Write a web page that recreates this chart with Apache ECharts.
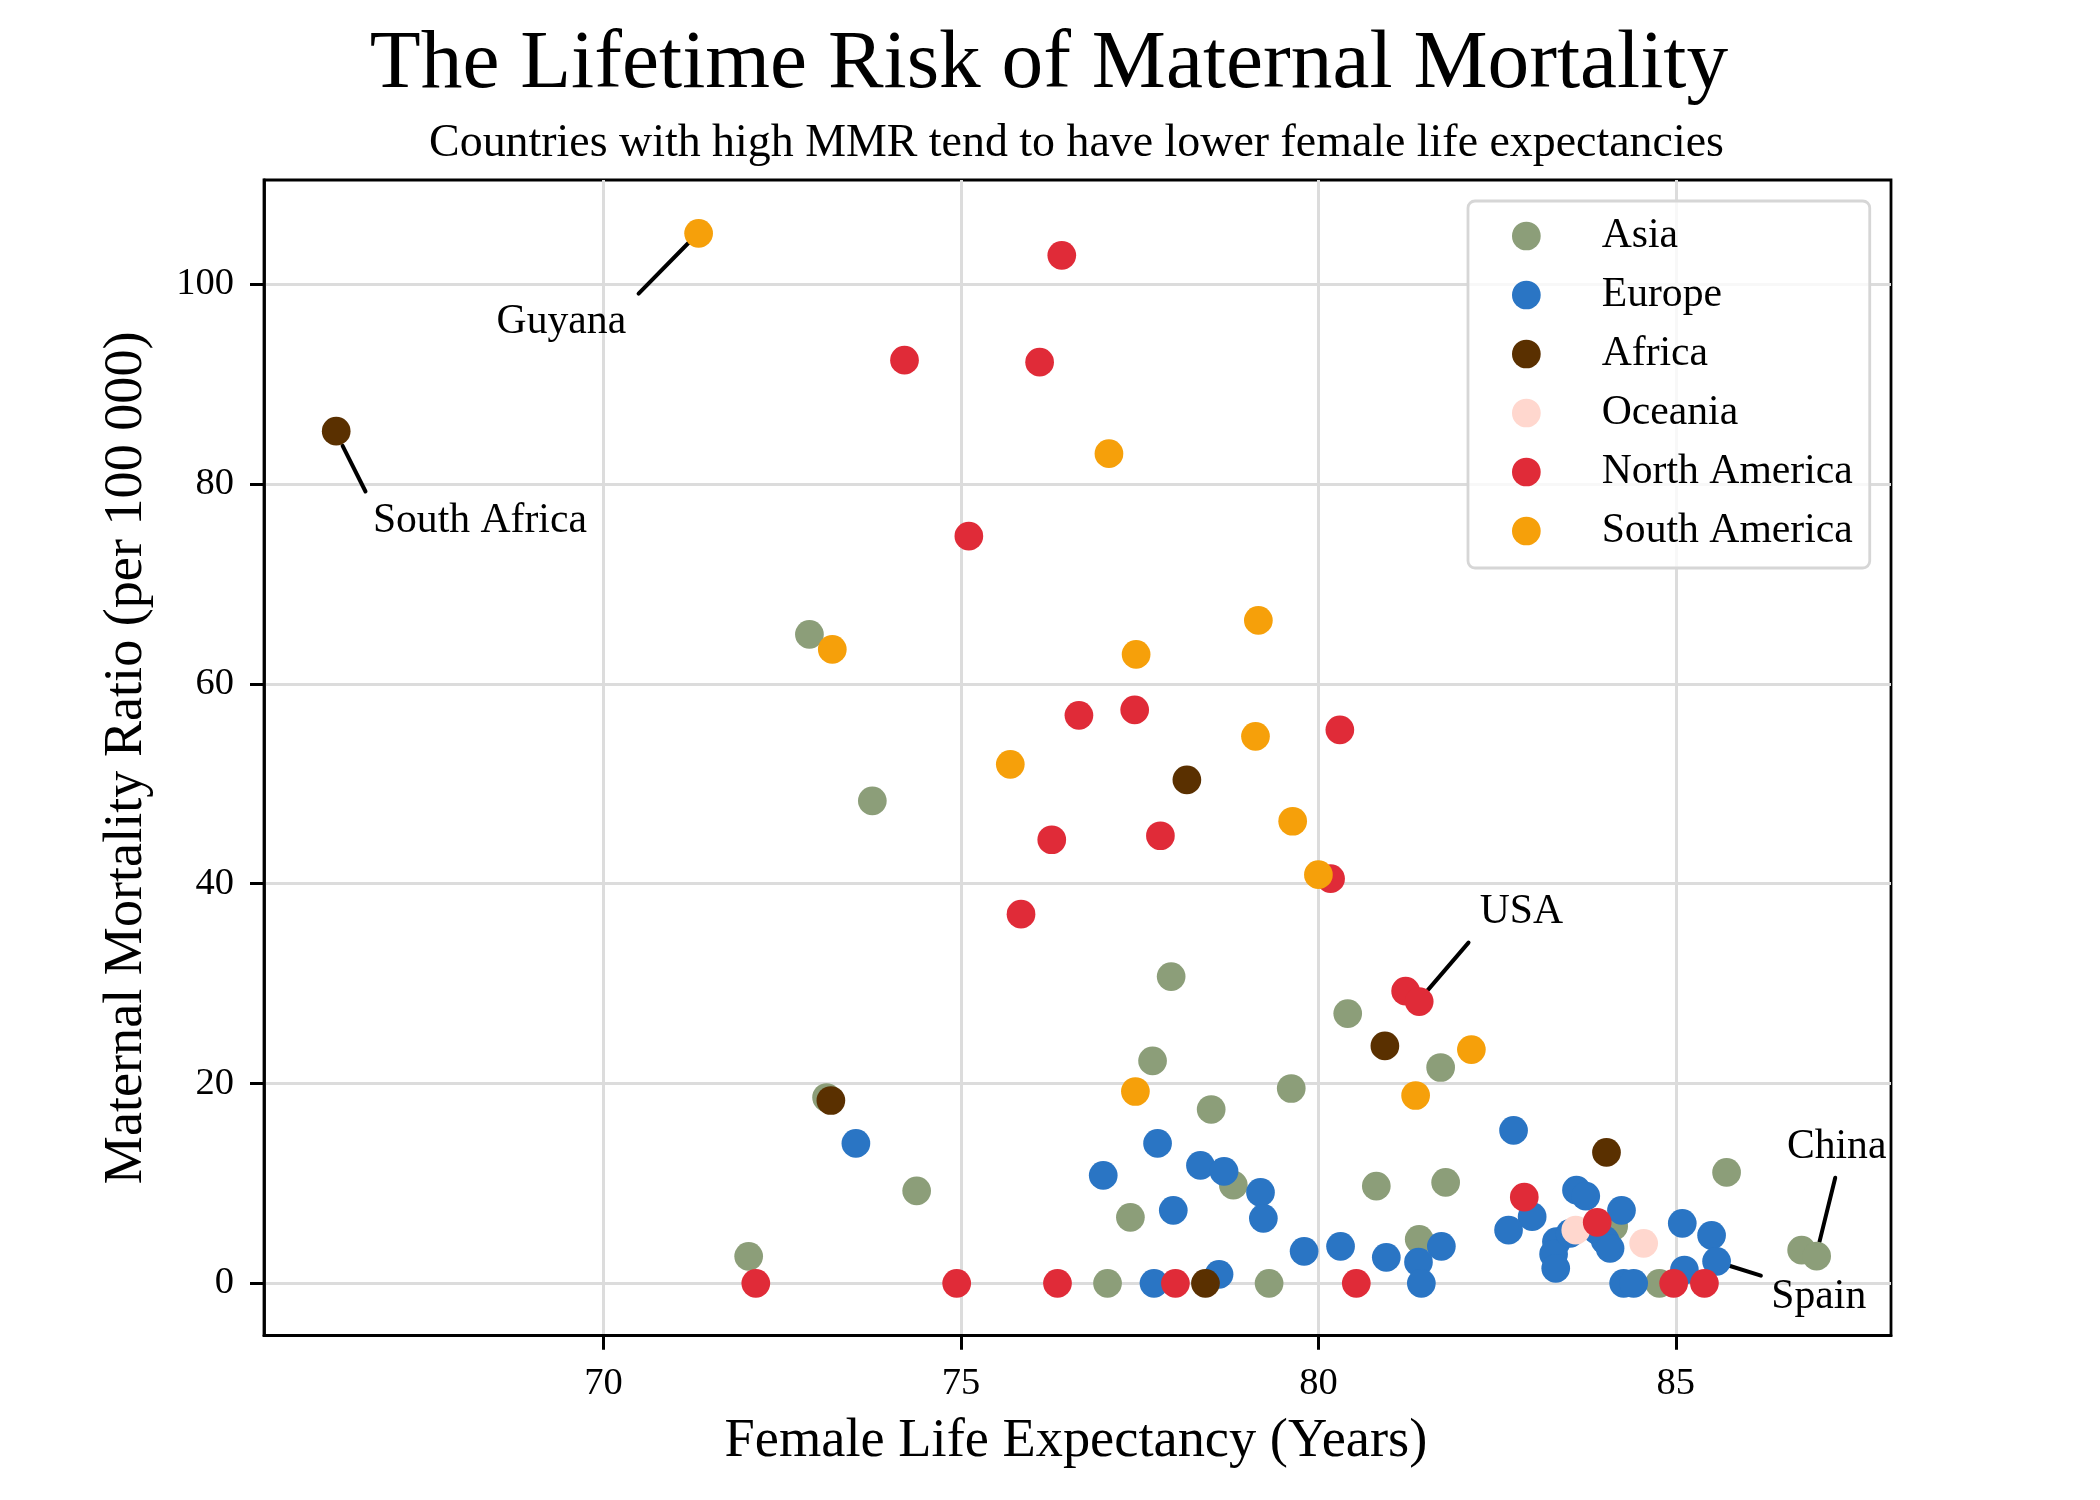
<!DOCTYPE html>
<html><head><meta charset="utf-8">
<style>html,body{margin:0;padding:0;background:#fff}#c{width:2100px;height:1500px}</style>
<script src="https://cdn.jsdelivr.net/npm/echarts@6/dist/echarts.min.js"></script>
</head><body><div id="c"></div>
<script>
const FONT = '"Liberation Serif","Times New Roman",serif';
const xTicks = [70,75,80,85];
const yTicks = [0,20,40,60,80,100];
const asia = [[72.88,64.95],[73.76,48.3],[77.94,30.7],[80.41,27],[74.38,9.26],[73.12,18.6],[72.03,2.7],[81.71,21.6],[81.78,10.1],[81.41,4.4],[85.71,11.1],[86.76,3.33],[86.97,2.73],[84.77,0],[84.13,5.7],[77.68,22.27],[78.5,17.4],[79.62,19.5],[77.37,6.6],[78.81,9.83],[80.81,9.73],[77.05,0],[79.31,0]];
const europe = [[73.53,14],[82.73,15.3],[81.72,3.7],[81.4,2.13],[81.44,0],[82.99,6.67],[82.66,5.33],[83.61,9.33],[83.74,8.73],[84.24,7.3],[83.33,4.17],[83.29,2.93],[83.32,1.5],[83.52,5],[83.9,5.3],[84.01,4.3],[84.08,3.5],[84.27,0],[84.41,0],[85.09,6],[85.5,4.8],[85.57,2.2],[85.12,1.33],[77.75,14],[76.99,10.8],[78.35,11.8],[78.68,11.2],[79.19,9.1],[79.23,6.5],[77.97,7.3],[79.8,3.2],[80.31,3.7],[80.95,2.6],[77.7,0],[78.61,0.9]];
const africa = [[66.26,85.3],[78.16,50.4],[73.18,18.3],[80.93,23.76],[84.03,13.1],[78.42,0]];
const oceania = [[83.6,5.33],[84.55,4]];
const northAmerica = [[76.41,102.9],[74.21,92.4],[76.1,92.2],[75.11,74.8],[76.65,56.85],[77.43,57.4],[80.3,55.4],[76.27,44.4],[77.79,44.8],[80.17,40.5],[75.84,36.95],[81.22,29.25],[81.41,28.2],[72.13,0],[74.94,0],[76.35,0],[78,0],[80.53,0],[82.88,8.63],[83.9,6.1],[84.97,0],[85.4,0]];
const southAmerica = [[71.33,105.1],[77.07,83.05],[79.16,66.35],[77.45,62.95],[73.2,63.45],[79.12,54.75],[75.69,51.95],[79.64,46.25],[80,40.9],[82.14,23.4],[81.36,18.8],[77.44,19.2]];
const annotationLabels = [["Guyana",69.41,96.2],["South Africa",68.27,76.3],["USA",82.84,37.2],["China",87.25,13.6],["Spain",87.0,-1.4]];
const annotationLines = [[[70.49,99.06],[71.19,104.16]],[[66.35,83.83],[66.67,79.26]],[[81.5,29.1],[82.1,34.1]],[[87.01,4.17],[87.23,10.57]],[[85.76,1.73],[86.19,0.77]]];

const groups = [["Asia",asia,"#8C9E79"],["Europe",europe,"#2A75C4"],["Africa",africa,"#5A3000"],["Oceania",oceania,"#FFD7CE"],["North America",northAmerica,"#E02B38"],["South America",southAmerica,"#F6A00A"]];
const series = groups.map(([name,data,color]) => ({
  name, type:'scatter', data, symbol:'circle', symbolSize:28.7, z:3,
  itemStyle:{color,opacity:1}, emphasis:{disabled:true}, silent:true
}));
series.push({
  name:'annotations', type:'scatter', symbolSize:0, silent:true, z:4,
  itemStyle:{opacity:1},
  data: annotationLabels.map(a=>({name:a[0],value:[a[1],a[2]]})),
  label:{show:true,position:'inside',formatter:'{b}',fontFamily:FONT,fontSize:41.67,color:'#000'},
  markLine:{silent:true,symbol:'none',animation:false,z:2,label:{show:false},
    lineStyle:{color:'#000',width:4,type:'solid',cap:'round',opacity:1},
    data: annotationLines.map(l=>[{coord:l[0]},{coord:l[1]}])}
});
const axisCommon = {
  type:'value',
  splitLine:{show:true,lineStyle:{color:'#dcdcdc',width:3}},
  minorTick:{show:false}
};
const chart = echarts.init(document.getElementById('c'),null,{renderer:'canvas',width:2100,height:1500});
chart.setOption({
  animation:false, backgroundColor:'#fff',
  title:[
    {text:'The Lifetime Risk of Maternal Mortality',left:1044,top:60,textAlign:'center',textVerticalAlign:'middle',textStyle:{fontFamily:FONT,fontSize:83.33,fontWeight:'normal',color:'#000'}},
    {text:'Countries with high MMR tend to have lower female life expectancies',left:1071.5,top:139,textAlign:'center',textVerticalAlign:'middle',textStyle:{fontFamily:FONT,fontSize:45.9,fontWeight:'normal',color:'#000'}}
  ],
  grid:{left:264,top:180,width:1627,height:1155.7,show:true,borderColor:'#000',borderWidth:2.8,backgroundColor:'#fff',containLabel:false},
  xAxis:{...axisCommon,min:65.25,max:88.01,name:'Female Life Expectancy (Years)',nameLocation:'middle',nameGap:79,
    nameTextStyle:{fontFamily:FONT,fontSize:54.4,color:'#000',padding:[0,3,0,0]},
    axisLine:{show:true,onZero:false,lineStyle:{color:'#000',width:2.8}},
    axisTick:{show:true,length:14,lineStyle:{color:'#000',width:3},customValues:xTicks},
    axisLabel:{fontFamily:FONT,fontSize:38.5,color:'#000',margin:29,customValues:xTicks}},
  yAxis:{...axisCommon,min:-5.245,max:110.44,name:'Maternal Mortality Ratio (per 100 000)',nameLocation:'middle',nameGap:110,
    nameTextStyle:{fontFamily:FONT,fontSize:54.17,color:'#000'},
    axisLine:{show:true,onZero:false,lineStyle:{color:'#000',width:2.8}},
    axisTick:{show:true,length:14,lineStyle:{color:'#000',width:3},customValues:yTicks},
    axisLabel:{fontFamily:FONT,fontSize:38.5,color:'#000',margin:30,customValues:yTicks}},
  legend:{show:true,orient:'vertical',left:1468,top:201,
    data:groups.map(g=>g[0]),icon:'circle',itemWidth:28.7,itemHeight:28.7,itemGap:17,
    padding:[14,17,16,44],backgroundColor:'rgba(255,255,255,0.8)',borderColor:'#d6d6d6',borderWidth:2.8,borderRadius:7,
    selectedMode:false,
    textStyle:{fontFamily:FONT,fontSize:41.67,color:'#000',padding:[0,0,2,56]}},
  series
});
</script></body></html>
